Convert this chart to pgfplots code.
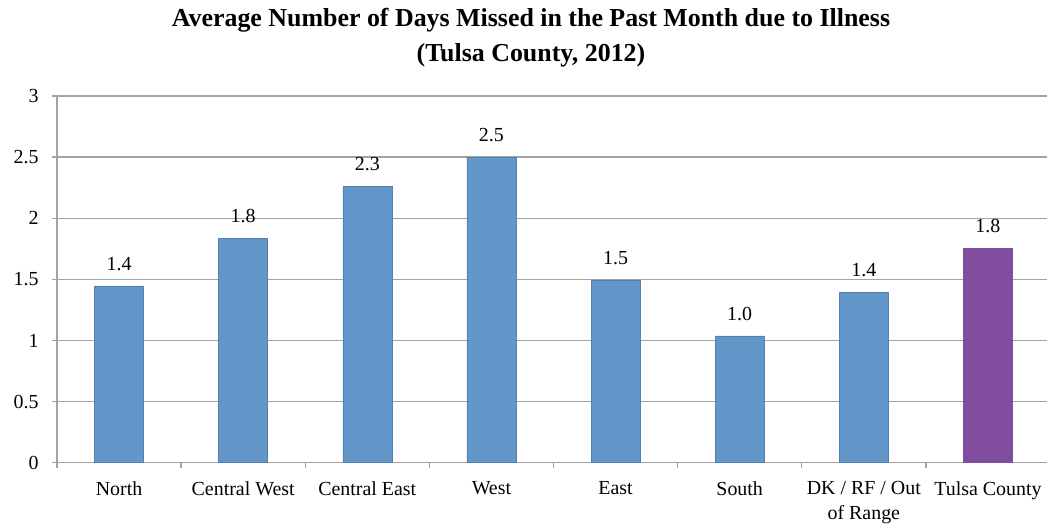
\documentclass[border=0pt]{standalone}
\usepackage{pgfplots}
\pgfplotsset{compat=1.18}
\usepackage{fontspec}
\setmainfont{Liberation Serif}
\definecolor{barblue}{RGB}{99,151,202}
\definecolor{barpurple}{RGB}{128,77,159}
\definecolor{gridgray}{RGB}{163,163,163}
\begin{document}
\begin{tikzpicture}[x=1bp,y=1bp]
\useasboundingbox (0,0) rectangle (1047,527);
\node[anchor=base,font=\fontsize{26}{30}\selectfont\bfseries] at (531,500) {Average Number of Days Missed in the Past Month due to Illness};
\node[anchor=base,font=\fontsize{26}{30}\selectfont\bfseries] at (531,465.3) {(Tulsa County, 2012)};
\begin{axis}[
  at={(57bp,64.3bp)}, anchor=south west,
  scale only axis,
  width=993bp, height=366.7bp,
  xmin=-0.5, xmax=7.5, ymin=0, ymax=3,
  axis lines=left,
  axis line style={gridgray, line width=1.3pt, -},
  ytick={0,0.5,...,3},
  yticklabels={0,0.5,1,1.5,2,2.5,3},
  ymajorgrids,
  major grid style={gridgray, line width=1.3pt},
  xtick={0,...,7},
  xticklabels={North,Central West,Central East,West,East,South,{DK / RF / Out\\of Range},Tulsa County},
  minor xtick={-0.5,0.5,...,7.5},
  tick align=outside,
  major tick length=5bp,
  minor tick length=5bp,
  tick style={gridgray, line width=1.3pt},
  xtick style={draw=none},
  minor x tick style={draw=gridgray, line width=1.3pt},
  ticklabel style={font=\fontsize{20}{25}\selectfont},
  xticklabel style={align=center, yshift=-10bp},
  yticklabel style={xshift=-10bp},
  /pgf/number format/assume math mode=true,
  clip=false,
  ybar, bar width=49bp,
  nodes near coords,
  point meta=explicit symbolic,
  every node near coord/.append style={font=\fontsize{20}{22}\selectfont, yshift=12bp, text=black},
]
\addplot[fill=barblue, draw=barblue!85!black, line width=0.4pt, bar shift=0pt] table[meta=lab] {
x y lab
0 1.446 1.4
1 1.836 1.8
2 2.259 2.3
3 2.500 2.5
4 1.495 1.5
5 1.037 1.0
6 1.394 1.4
};
\addplot[fill=barpurple, draw=barpurple, line width=0.4pt, bar shift=0pt] table[meta=lab] {
x y lab
7 1.754 1.8
};
\end{axis}
\end{tikzpicture}
\end{document}
